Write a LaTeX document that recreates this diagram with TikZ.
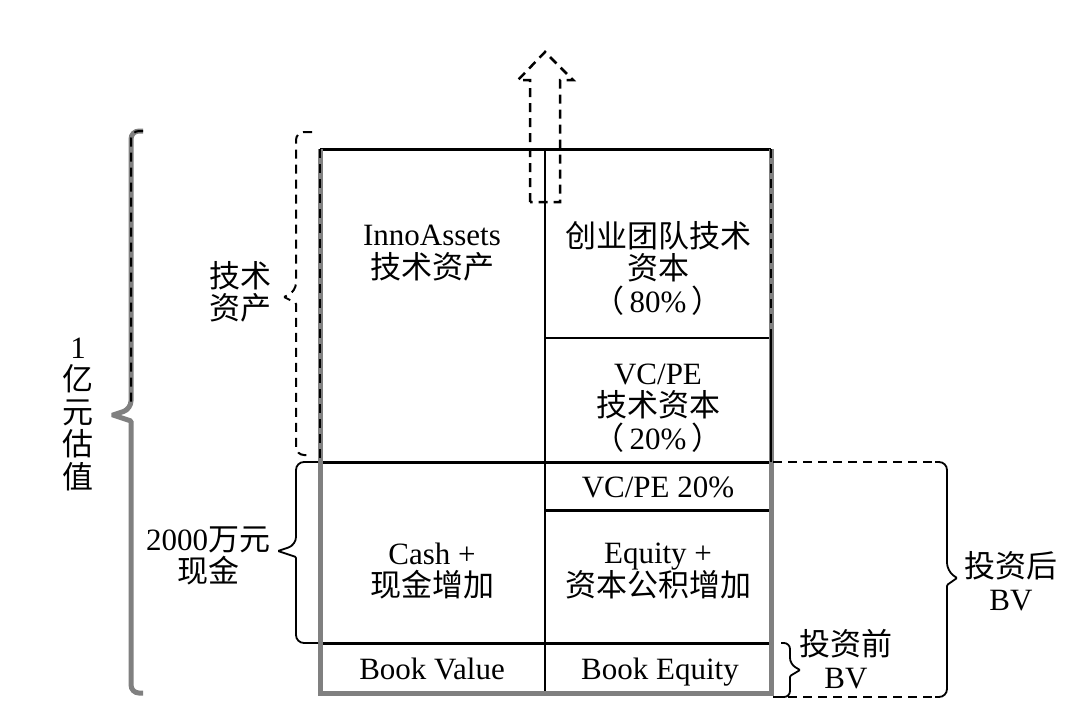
\documentclass[tikz,border=0pt]{standalone}
\usepackage{fontspec}
\setmainfont{Liberation Serif}
\newfontfamily\cjk{Noto Sans CJK SC}
\definecolor{bgray}{RGB}{128,128,128}
\begin{document}
\begin{tikzpicture}[x=1pt,y=-1pt,
  lbl/.style={align=center, font=\fontsize{31}{32.5}\selectfont, inner sep=0pt},
  gline/.style={draw=bgray, line width=5pt},
  bline/.style={draw=black, line width=3pt},
  mline/.style={draw=black, line width=2pt},
  tline/.style={draw=black, line width=1.5pt},
  dsh/.style={draw=black, line width=2pt, dash pattern=on 9pt off 6pt},
  brc/.style={draw=black, line width=1.8pt},
]
\useasboundingbox (0,0) rectangle (1067,712);
% box corners
\coordinate (tl) at (320,149);
\coordinate (tr) at (771,149);
\coordinate (bl) at (320,693);
\coordinate (br) at (771,693);
\coordinate (mt) at (545,149);
\coordinate (mb) at (545,693);
\coordinate (l462) at (320,462);
\coordinate (r462) at (771,462);
\coordinate (m338) at (545,338);
\coordinate (r338) at (771,338);
\coordinate (m510) at (545,510);
\coordinate (r510) at (771,510);
\coordinate (l643) at (320,643);
\coordinate (r643) at (771,643);
% inner lines
\draw[tline] (mt) -- (mb);
\draw[bline] (tl) -- (tr);
\draw[mline] (m338) -- (r338);
\draw[bline] (l462) -- (r462);
\draw[bline] (m510) -- (r510);
\draw[bline] (l643) -- (r643);
% gray outline
\draw[gline] (tl) -- (bl) -- (br) -- (tr);
\draw[dsh] (tl) -- (l462);
\draw[dsh] (tr) -- (r338);
\draw[tline] (r338) -- (r462);
% dashed arrow
\coordinate (a1) at (530,202);
\coordinate (a2) at (530,80);
\coordinate (a3) at (518,80);
\coordinate (a4) at (545,52);
\coordinate (a5) at (573,80);
\coordinate (a6) at (560,80);
\coordinate (a7) at (560,202);
\draw[dsh, line width=2.5pt] (a1) -- (a2) -- (a3) -- (a4) -- (a5) -- (a6) -- (a7) -- cycle;
% text in cells
\node[lbl] (inno) at (432,253) {InnoAssets\\\cjk 技术资产};
\node[lbl] (team) at (658,268) {\cjk 创业团队技术\\\cjk 资本\\{\cjk （}\hspace{5pt}80\%\hspace{5pt}{\cjk ）}};
\node[lbl] (vctech) at (658,408) {VC/PE\\\cjk 技术资本\\{\cjk （}\hspace{5pt}20\%\hspace{5pt}{\cjk ）}};
\node[lbl, anchor=base] (vc20) at (658,497) {VC/PE 20\%};
\node[lbl] (cash) at (432,571) {Cash +\\\cjk 现金增加};
\node[lbl] (equity) at (658,571) {Equity +\\\cjk 资本公积增加};
\node[lbl, anchor=base] (bookv) at (432,679) {Book Value};
\node[lbl, anchor=base] (booke) at (660,679) {Book Equity};
% side labels
\node[lbl] (val) at (78,414) {1\\\cjk 亿\\\cjk 元\\\cjk 估\\\cjk 值};
\node[lbl] (tech) at (240,292) {\cjk 技术\\\cjk 资产};
\node[lbl] (cashlbl) at (208,556) {2000{\cjk 万元}\\\cjk 现金};
\node[lbl] (after) at (1011,581) {\cjk 投资后\\BV};
\node[lbl] (before) at (846,659) {\cjk 投资前\\BV};
% big brace
\draw[gline, rounded corners=8pt] (143,131) -- (131,131) -- (131,409) [rounded corners=1pt] -- (113,415) -- (131,421) [rounded corners=8pt] -- (131,693) -- (143,693);
\draw[dsh, rounded corners=8pt] (143,131) -- (131,131) -- (131,407);
% tech brace (dashed)
\draw[dsh, rounded corners=8pt] (312,132) -- (296,132) -- (296,291) [rounded corners=1pt] -- (284,297) -- (296,303) [rounded corners=8pt] -- (296,455) -- (308,455);
% cash brace
\draw[brc, rounded corners=8pt] (318,462) -- (296,462) -- (296,545) [rounded corners=1pt] -- (278,551) -- (296,557) [rounded corners=8pt] -- (296,643) -- (318,643);
% after brace
\draw[dsh] (773,462) -- (935,462);
\draw[dsh] (773,697) -- (935,697);
\draw[brc, rounded corners=8pt] (935,462) -- (947,462) -- (947,571) [rounded corners=1pt] -- (957,578) -- (947,585) [rounded corners=8pt] -- (947,697) -- (935,697);
% before brace
\draw[brc, rounded corners=6pt] (781,643) -- (790,643) -- (790,664) [rounded corners=1pt] -- (800,670) -- (790,676) [rounded corners=6pt] -- (790,697) -- (781,697);
\end{tikzpicture}
\end{document}
